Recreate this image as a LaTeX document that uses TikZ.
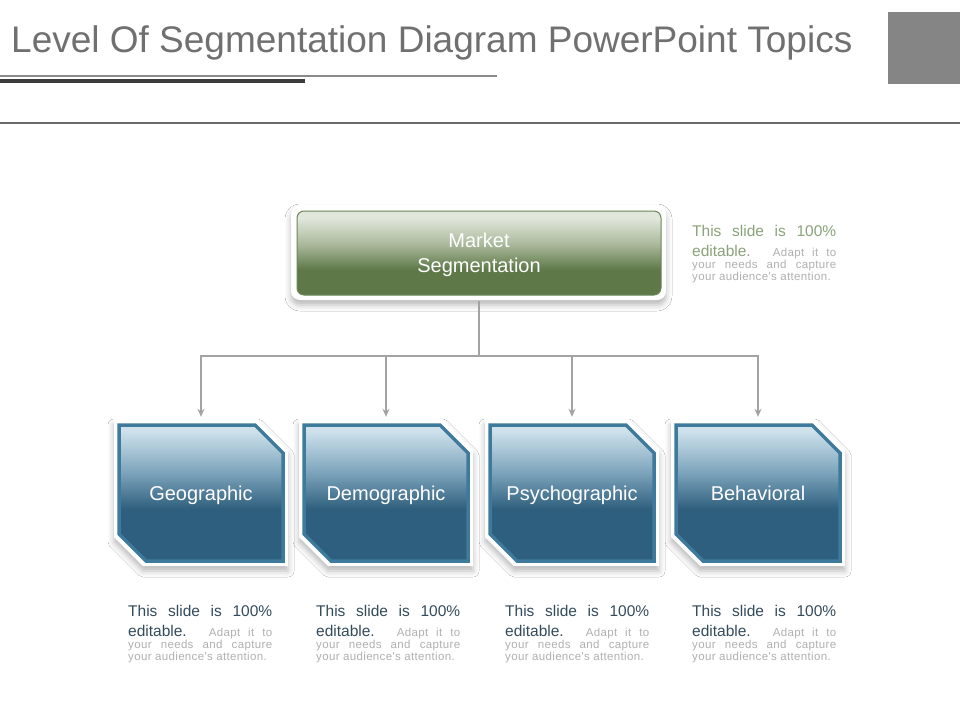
\documentclass[tikz,border=0pt]{standalone}
\usepackage{fontspec}
\setmainfont{Liberation Sans}
\newfontfamily\smallf[LetterSpace=3]{Liberation Sans}
\usetikzlibrary{calc,arrows.meta,shadows.blur}
\definecolor{titlegray}{HTML}{707070}
\definecolor{linegray}{HTML}{8A8A8A}
\definecolor{thickdark}{HTML}{3D3D3D}
\definecolor{sqgray}{HTML}{858585}
\definecolor{rulegray}{HTML}{6A6A6A}
\definecolor{grnL}{HTML}{E2E7DC}
\definecolor{grnM}{HTML}{A9B89B}
\definecolor{grnD}{HTML}{5E7848}
\definecolor{grnB}{HTML}{6C8757}
\definecolor{bluL}{HTML}{CFE2EC}
\definecolor{bluM}{HTML}{7FA6BD}
\definecolor{bluD}{HTML}{2F5F7E}
\definecolor{bluB}{HTML}{3E7A9B}
\definecolor{conngray}{HTML}{A3A3A3}
\definecolor{headblue}{HTML}{344B5C}
\definecolor{headgreen}{HTML}{8AA37A}
\definecolor{smallgray}{HTML}{B0B0B0}
\pgfdeclareverticalshading{greensh}{100bp}{color(0bp)=(grnD); color(25bp)=(grnD); color(40bp)=(grnD); color(55bp)=(grnM); color(71bp)=(grnL); color(75bp)=(grnL); color(100bp)=(grnL)}
\pgfdeclareverticalshading{bluesh}{100bp}{color(0bp)=(bluD); color(25bp)=(bluD); color(44bp)=(bluD); color(58bp)=(bluM); color(73bp)=(bluL); color(75bp)=(bluL); color(100bp)=(bluL)}
\tikzset{
  softshadow/.style={blur shadow={shadow xshift=0pt, shadow yshift=-5pt, shadow blur radius=6pt, shadow opacity=28}},
  conn/.style={draw=conngray, line width=2.6pt, -{Stealth[length=8pt,width=7pt]}},
  seglabel/.style={font=\fontsize{20}{24}\selectfont, text=white, text height=19pt, text depth=4pt, minimum width=166pt, minimum height=138pt, inner sep=0pt},
  infoline/.style={anchor=base west, inner sep=0pt}
}
\newcommand\segbox[3]{%
  \begin{scope}[shift={(#2,493)}]
    \fill[white, softshadow] (-87,-73) -- (57,-73) -- (87,-43) -- (87,73) -- (-58,73) -- (-87,44) -- cycle;
    \shadedraw[shading=bluesh, draw=bluB, line width=3.5pt] (-82,-68) -- (54,-68) -- (82,-40) -- (82,68) -- (-55,68) -- (-82,41) -- cycle;
    \node[seglabel] (#1) at (0,0) {#3};
  \end{scope}}
\newcommand\infoblock[4]{%
  \node[infoline, text=#4] (#1a) at (#2,#3) {\makebox[144pt][s]{\fontsize{15.5}{18}\selectfont This slide is 100\%}};
  \node[infoline] (#1b) at (#2,#3+20) {\makebox[144pt][s]{\color{#4}\fontsize{15.5}{18}\selectfont editable. \color{smallgray}\smallf\fontsize{11.5}{13}\selectfont Adapt it to}};
  \node[infoline, text=smallgray] (#1c) at (#2,#3+32) {\makebox[144pt][s]{\smallf\fontsize{11.5}{13}\selectfont your needs and capture}};
  \node[infoline, text=smallgray] (#1d) at (#2,#3+44) {\smallf\fontsize{11.5}{13}\selectfont your audience's attention.};}
\begin{document}
\begin{tikzpicture}[x=1pt,y=-1pt]
\useasboundingbox (0,0) rectangle (960,720);
\fill[white] (0,0) rectangle (960,720);
% header
\node[anchor=base west, inner sep=0pt, text=titlegray, font=\fontsize{37}{44}\selectfont] (title) at (11,52) {Level Of Segmentation Diagram PowerPoint Topics};
\draw[linegray, line width=2pt] (0,75.5) -- (497,75.5);
\fill[thickdark] (0,78.5) rectangle (305,82.5);
\fill[sqgray] (888,12) rectangle (960,84);
\draw[rulegray, line width=1.2pt] (0,123) -- (960,123);
% top box
\fill[white, rounded corners=9pt, softshadow] (291,205) rectangle (666,300);
\shadedraw[shading=greensh, draw=grnB, line width=1pt, rounded corners=7pt] (297,211) rectangle (661,295);
\node[text=white, font=\fontsize{20}{25.5}\selectfont, align=center, minimum width=364pt, minimum height=84pt, inner sep=0pt] (ms) at (479,255) {Market\\Segmentation};
% bottom boxes
\segbox{g1}{201}{Geographic}
\segbox{g2}{386}{Demographic}
\segbox{g3}{572}{Psychographic}
\segbox{g4}{758}{Behavioral}
% connectors
\coordinate (bus) at (480,356);
\foreach \n in {g1,g2,g3,g4}
  \draw[conn] ($(ms.south)+(0,4)$) |- (\n.north |- bus) -- ($(\n.north)+(0,-7)$);
% texts
\infoblock{tr}{692}{236}{headgreen}
\infoblock{b1}{128}{616}{headblue}
\infoblock{b2}{316}{616}{headblue}
\infoblock{b3}{505}{616}{headblue}
\infoblock{b4}{692}{616}{headblue}
\end{tikzpicture}
\end{document}
